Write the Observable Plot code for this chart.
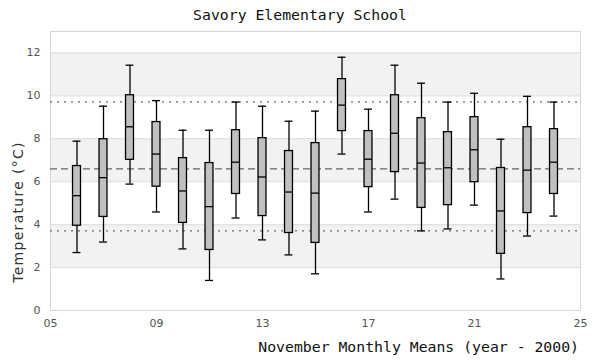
<!DOCTYPE html>
<html>
<head>
<meta charset="utf-8">
<script src="https://cdn.jsdelivr.net/npm/d3@7"></script>
<script src="https://cdn.jsdelivr.net/npm/@observablehq/plot@0.6"></script>
<style>
  html, body { margin: 0; padding: 0; background: #fff; }
  #chart { width: 600px; height: 360px; }
</style>
</head>
<body>
<div id="chart"></div>
<script>
// Data
const years   = [6, 7, 8, 9, 10, 11, 12, 13, 14, 15, 16, 17, 18, 19, 20, 21, 22, 23, 24];
const lows    = [2.70, 3.19, 5.89, 4.59, 2.87, 1.40, 4.31, 3.29, 2.59, 1.71, 7.29, 4.59, 5.19, 3.71, 3.80, 4.91, 1.47, 3.47, 4.40];
const q1s     = [3.95, 4.36, 7.02, 5.77, 4.08, 2.82, 5.43, 4.40, 3.61, 3.15, 8.36, 5.75, 6.45, 4.78, 4.91, 5.98, 2.64, 4.54, 5.43];
const medians = [5.35, 6.19, 8.56, 7.29, 5.57, 4.84, 6.91, 6.22, 5.52, 5.47, 9.57, 7.05, 8.26, 6.87, 6.65, 7.49, 4.64, 6.54, 6.91];
const q3s     = [6.73, 7.98, 10.03, 8.78, 7.10, 6.87, 8.40, 8.03, 7.43, 7.80, 10.78, 8.36, 10.03, 8.96, 8.31, 9.01, 6.64, 8.54, 8.45];
const highs   = [7.89, 9.52, 11.43, 9.78, 8.40, 8.40, 9.71, 9.52, 8.82, 9.29, 11.80, 9.38, 11.43, 10.59, 9.71, 10.12, 7.98, 9.98, 9.71];

const meanLevel = [6.60];
const sdLevels = [9.72, 3.71];
const bandStarts = [2, 6, 10];
const bandEnds   = [4, 8, 12];
const yTicks = [0, 2, 4, 6, 8, 10, 12];
const xTicks = [5, 9, 13, 17, 21, 25];

const titleText = "Savory Elementary School";
const xLabelText = "November Monthly Means (year - 2000)";
const yLabelText = "Temperature (°C)";

const boxes = years.map((y, i) => ({year: y, low: lows[i], q1: q1s[i], median: medians[i], q3: q3s[i], high: highs[i]}));
const bands = bandStarts.map((s, i) => ({y1: s, y2: bandEnds[i]}));
const halfBox = 0.15;

const plot = Plot.plot({
  width: 600,
  height: 360,
  marginLeft: 50,
  marginRight: 20,
  marginTop: 31,
  marginBottom: 50,
  style: {fontFamily: "DejaVu Sans, sans-serif", fontSize: "11px", color: "#555", background: "#fff"},
  x: {domain: [5, 25], ticks: xTicks, tickFormat: d3.format("02d"), label: null, tickSize: 0, tickPadding: 9},
  y: {domain: [0, 13], ticks: yTicks, label: null, tickSize: 0, tickPadding: 10},
  marks: [
    Plot.rect(bands, {y1: "y1", y2: "y2", fill: "#f2f2f2"}),
    Plot.gridY(yTicks.filter(d => d > 0), {stroke: "#dcdcdc", strokeOpacity: 1, strokeWidth: 1}),
    Plot.frame({stroke: "#d6d6d6", strokeWidth: 1}),
    Plot.ruleY(sdLevels, {stroke: "#666", strokeDasharray: "2,5", strokeWidth: 1.1}),
    Plot.ruleY(meanLevel, {stroke: "#666", strokeDasharray: "7,4", strokeWidth: 1.2}),
    Plot.ruleX(boxes, {x: "year", y1: "low", y2: "high", stroke: "#000", strokeWidth: 1.3}),
    Plot.ruleY(boxes, {y: "low", x1: d => d.year - halfBox, x2: d => d.year + halfBox, stroke: "#000", strokeWidth: 1.3}),
    Plot.ruleY(boxes, {y: "high", x1: d => d.year - halfBox, x2: d => d.year + halfBox, stroke: "#000", strokeWidth: 1.3}),
    Plot.rect(boxes, {x1: d => d.year - halfBox, x2: d => d.year + halfBox, y1: "q1", y2: "q3", fill: "#c0c0c0", stroke: "#000", strokeWidth: 1.3}),
    Plot.ruleY(boxes, {y: "median", x1: d => d.year - halfBox, x2: d => d.year + halfBox, stroke: "#000", strokeWidth: 1.3})
  ]
});

const svg = d3.select(plot);
svg.append("text")
  .attr("x", 300).attr("y", 20)
  .attr("text-anchor", "middle")
  .style("font-family", "DejaVu Sans Mono, monospace")
  .style("font-size", "14.8px")
  .style("fill", "#111")
  .text(titleText);
svg.append("text")
  .attr("x", 579).attr("y", 352)
  .attr("text-anchor", "end")
  .style("font-family", "DejaVu Sans Mono, monospace")
  .style("font-size", "14.8px")
  .style("fill", "#111")
  .text(xLabelText);
svg.append("text")
  .attr("transform", "translate(23,212) rotate(-90)")
  .attr("text-anchor", "middle")
  .style("font-family", "DejaVu Sans, sans-serif")
  .style("font-size", "14px")
  .style("letter-spacing", "1.3px")
  .style("fill", "#333")
  .text(yLabelText);

document.getElementById("chart").appendChild(plot);
</script>
</body>
</html>
